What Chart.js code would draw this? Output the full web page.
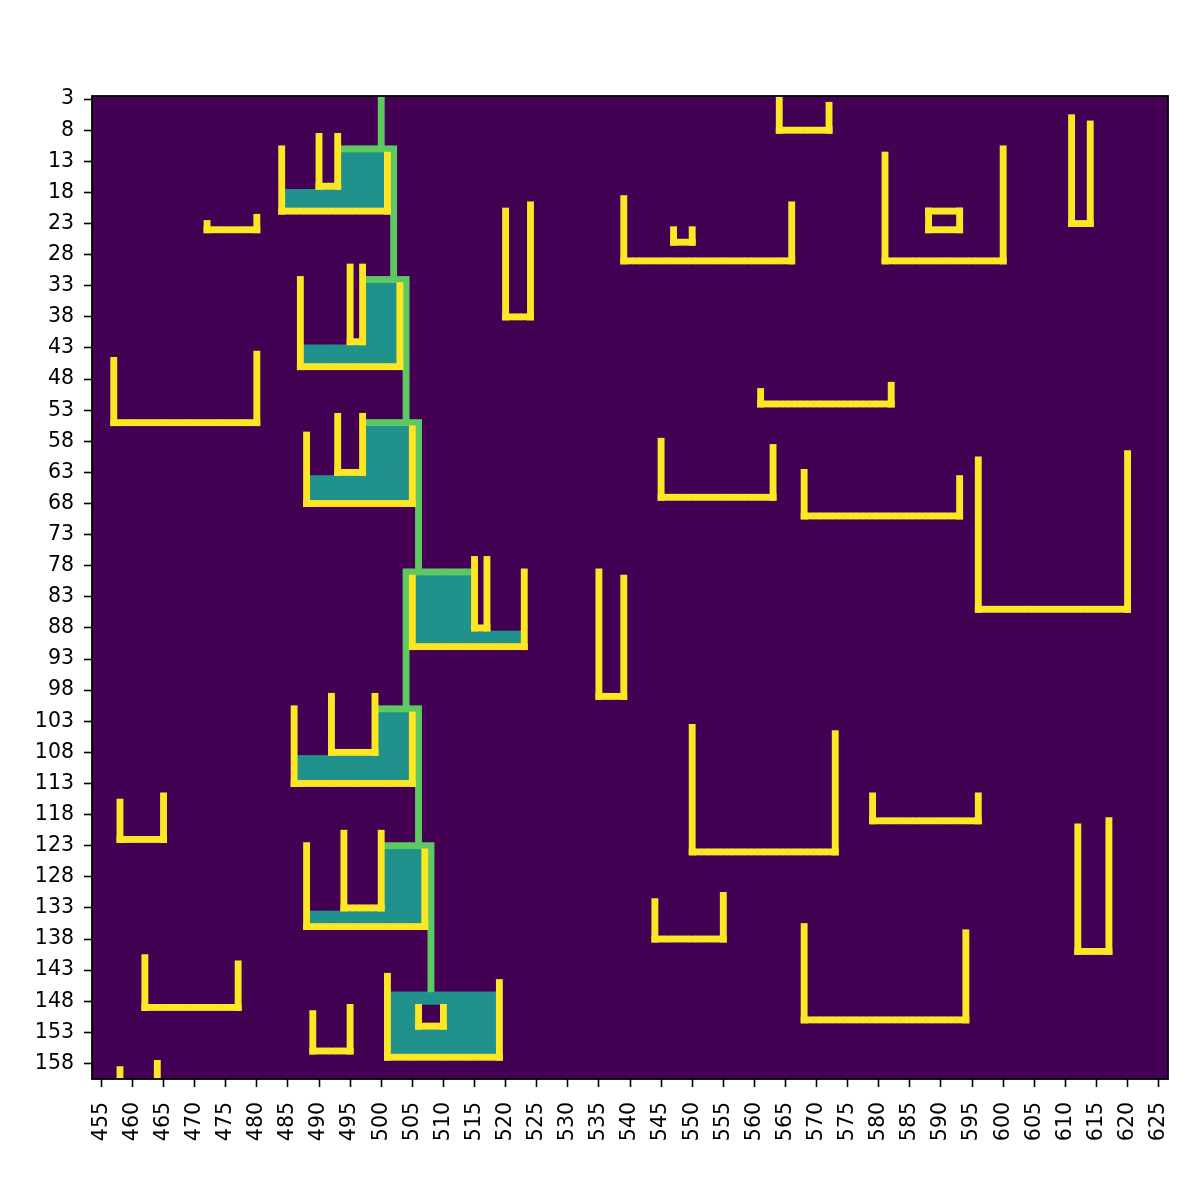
<!DOCTYPE html>
<html>
<head>
<meta charset="utf-8">
<script src="https://cdn.jsdelivr.net/npm/chart.js@4"></script>
<style>html,body{margin:0;padding:0;background:#ffffff;}</style>
</head>
<body>
<canvas id="c" width="1200" height="1200"></canvas>
<script>
// ---- axis extents and tick labels ----
const xLimits = [453.5, 626.5];
const yLimits = [2.5, 160.5];
const xTicks = [455,460,465,470,475,480,485,490,495,500,505,510,515,520,525,530,535,540,545,550,555,560,565,570,575,580,585,590,595,600,605,610,615,620,625];
const yTicks = [3,8,13,18,23,28,33,38,43,48,53,58,63,68,73,78,83,88,93,98,103,108,113,118,123,128,133,138,143,148,153,158];

// ---- clay veins: vertical [x, yFrom, yTo] ----
const clayVertical = [
  [484,11,21],[501,12,21],[490,9,17],[493,9,17],
  [487,32,46],[503,33,46],[495,30,42],[497,30,42],
  [488,57,68],[505,56,68],[493,54,63],[497,54,63],
  [505,80,91],[523,79,91],[515,77,88],[517,77,88],
  [486,101,113],[505,102,113],[492,99,108],[499,99,108],
  [488,123,136],[507,124,136],[494,121,133],[500,121,133],
  [501,144,157],[519,145,157],[506,149,152],[510,149,152],
  [489,150,156],[495,149,156],
  [458,159,160],[464,158,160],
  [564,3,8],[572,4,8],
  [472,23,24],[480,22,24],
  [520,21,38],[524,20,38],
  [457,45,55],[480,44,55],
  [539,19,29],[566,20,29],[547,24,26],[550,24,26],
  [581,12,29],[600,11,29],[588,21,24],[593,21,24],
  [611,6,23],[614,7,23],
  [561,50,52],[582,49,52],
  [545,58,67],[563,59,67],
  [568,63,70],[593,64,70],
  [596,61,85],[620,60,85],
  [535,79,99],[539,80,99],
  [550,104,124],[573,105,124],
  [579,115,119],[596,115,119],
  [458,116,122],[465,115,122],
  [612,120,140],[617,119,140],
  [544,132,138],[555,131,138],
  [568,136,151],[594,137,151],
  [462,141,149],[477,142,149]
];
// ---- clay veins: horizontal [y, xFrom, xTo] ----
const clayHorizontal = [
  [21,484,501],[17,490,493],
  [46,487,503],[42,495,497],
  [68,488,505],[63,493,497],
  [91,505,523],[88,515,517],
  [113,486,505],[108,492,499],
  [136,488,507],[133,494,500],
  [157,501,519],[152,506,510],
  [156,489,495],
  [8,564,572],
  [24,472,480],
  [38,520,524],
  [55,457,480],
  [29,539,566],[26,547,550],
  [29,581,600],[21,588,593],[24,588,593],
  [23,611,614],
  [52,561,582],
  [67,545,563],
  [70,568,593],
  [85,596,620],
  [99,535,539],
  [124,550,573],
  [119,579,596],
  [122,458,465],
  [140,612,617],
  [138,544,555],
  [151,568,594],
  [149,462,477]
];
// ---- water at rest: [xFrom, xTo, yFrom, yTo] ----
const restWater = [
  [485,500,18,20],[494,500,12,17],
  [488,502,43,45],[498,502,33,42],
  [489,504,64,67],[498,504,56,63],
  [506,522,89,90],[506,514,80,88],
  [487,504,109,112],[500,504,102,108],
  [489,506,134,135],[501,506,124,133],
  [502,518,147,148],[502,505,149,156],[511,518,149,156],[506,510,153,156]
];
// ---- flowing water: vertical [x, yFrom, yTo], horizontal [y, xFrom, xTo] ----
const flowVertical = [
  [500,3,10],[502,12,31],[504,33,54],[506,56,78],[504,80,100],[506,102,122],[508,124,146]
];
const flowHorizontal = [
  [11,494,502],[32,498,504],[55,498,506],[79,504,514],[101,500,506],[123,501,508]
];

// ---- colours ----
const COLORS = {sand:'#440154', rest:'#21918c', flow:'#5ec962', clay:'#fde725'};

function fromVertical(list){
  return list.map(([x,a,b]) => ({x:x, y:[a-0.5, b+0.5]}));
}
function fromHorizontal(list){
  const out=[];
  list.forEach(([y,a,b]) => { for(let x=a;x<=b;x++) out.push({x:x, y:[y-0.5, y+0.5]}); });
  return out;
}
function fromRects(list){
  const out=[];
  list.forEach(([x1,x2,y1,y2]) => { for(let x=x1;x<=x2;x++) out.push({x:x, y:[y1-0.5, y2+0.5]}); });
  return out;
}

const bgPlugin = {
  id:'bg',
  beforeDatasetsDraw(chart){
    const {ctx, chartArea:a} = chart;
    ctx.save(); ctx.fillStyle = COLORS.sand;
    ctx.fillRect(a.left, a.top, a.right-a.left, a.bottom-a.top);
    ctx.restore();
  },
  afterDraw(chart){
    const {ctx, chartArea:a} = chart;
    ctx.save(); ctx.strokeStyle='#000'; ctx.lineWidth=1.8;
    ctx.strokeRect(a.left, a.top, a.right-a.left, a.bottom-a.top);
    ctx.restore();
  }
};

const tickFont = {family:'DejaVu Sans', size:20.5};
new Chart(document.getElementById('c'), {
  type:'bar',
  data:{datasets:[
    {label:'clay', data:[...fromVertical(clayVertical), ...fromHorizontal(clayHorizontal)], backgroundColor:COLORS.clay, order:0},
    {label:'flowing', data:[...fromVertical(flowVertical), ...fromHorizontal(flowHorizontal)], backgroundColor:COLORS.flow, order:1},
    {label:'rest', data:fromRects(restWater), backgroundColor:COLORS.rest, order:2}
  ]},
  options:{
    responsive:false, animation:false,
    datasets:{bar:{grouped:false, barPercentage:1, categoryPercentage:1, borderWidth:0}},
    layout:{padding:{top:96, right:32, bottom:0, left:0}},
    plugins:{legend:{display:false}, tooltip:{enabled:false}},
    scales:{
      x:{type:'linear', min:xLimits[0], max:xLimits[1], offset:false,
         grid:{display:true, drawOnChartArea:false, drawTicks:true, tickLength:8, tickWidth:1.6, tickColor:'#000', offset:false},
         border:{display:false},
         ticks:{autoSkip:false, minRotation:90, maxRotation:90, padding:15, color:'#000', font:tickFont, callback:v=>String(v)},
         afterBuildTicks:s=>{ s.ticks = xTicks.map(v=>({value:v})); },
         afterFit:s=>{ s.height = 121; }
      },
      y:{type:'linear', reverse:true, min:yLimits[0], max:yLimits[1], beginAtZero:false,
         grid:{display:true, drawOnChartArea:false, drawTicks:true, tickLength:8, tickWidth:1.6, tickColor:'#000'},
         border:{display:false},
         ticks:{autoSkip:false, padding:10, color:'#000', font:tickFont, callback:v=>String(v)},
         afterBuildTicks:s=>{ s.ticks = yTicks.map(v=>({value:v})); },
         afterFit:s=>{ s.width = 92; }
      }
    }
  },
  plugins:[bgPlugin]
});
</script>
</body>
</html>
